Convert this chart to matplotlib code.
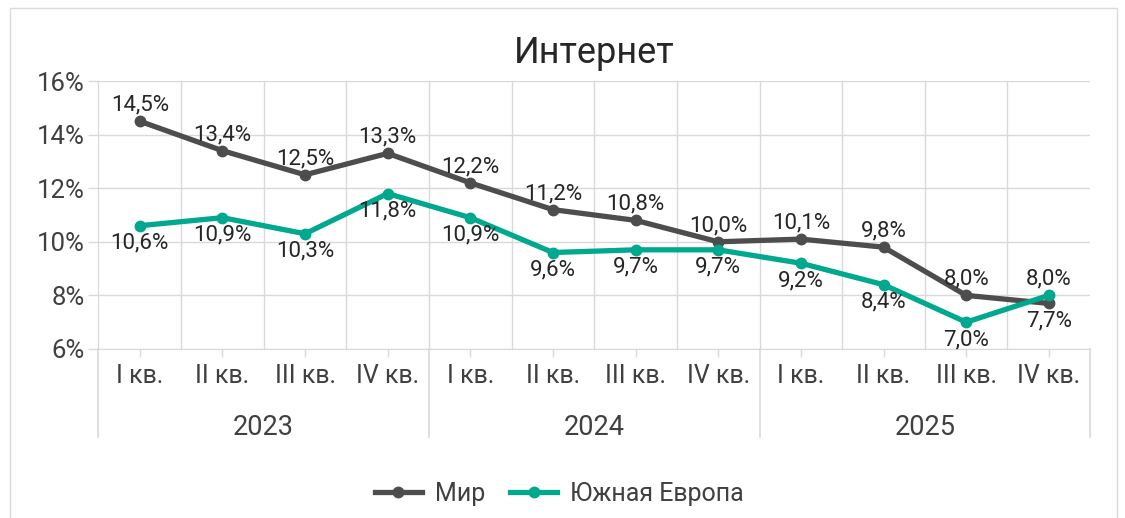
import matplotlib
matplotlib.use('Agg')
import matplotlib.pyplot as plt
import matplotlib.transforms as mtransforms
from matplotlib.patches import Rectangle
import numpy as np

plt.rcParams['font.family'] = ['Roboto', 'DejaVu Sans']

quarters = ['I кв.', 'II кв.', 'III кв.', 'IV кв.'] * 3
years = ['2023', '2024', '2025']
mir = [14.5, 13.4, 12.5, 13.3, 12.2, 11.2, 10.8, 10.0, 10.1, 9.8, 8.0, 7.7]
south_eu = [10.6, 10.9, 10.3, 11.8, 10.9, 9.6, 9.7, 9.7, 9.2, 8.4, 7.0, 8.0]
# label placement: +1 above, -1 below
mir_pos = [1] * 11 + [-1]
se_pos = [-1] * 11 + [1]

c_mir = '#4d4d4d'
c_se = '#00a88e'
c_grid = '#d9d9d9'
c_text = '#404040'

fig = plt.figure(figsize=(11.25, 5.18), dpi=100)
ax = fig.add_axes([0.0875, 0.3263, 0.8815, 0.5173])

x = np.arange(len(mir))
ax.plot(x, mir, color=c_mir, lw=3.8, marker='o', ms=7.5, label='Мир', zorder=3)
ax.plot(x, south_eu, color=c_se, lw=3.8, marker='o', ms=7.5, label='Южная Европа', zorder=4)

def fmt(v):
    return f'{v:.1f}%'.replace('.', ',')

for series, pos in [(mir, mir_pos), (south_eu, se_pos)]:
    for xi, v, p in zip(x, series, pos):
        ax.annotate(fmt(v), (xi, v), xytext=(0, 4 if p > 0 else -5),
                    textcoords='offset points', ha='center',
                    va='bottom' if p > 0 else 'top', fontsize=16, color='#262626', zorder=5)

ax.set_xlim(-0.5, len(mir) - 0.5)
ax.set_ylim(6, 16)
ax.set_yticks(np.arange(6, 17, 2))
ax.set_yticklabels([f'{t}%' for t in range(6, 17, 2)])
ax.set_xticks(x)
ax.set_xticklabels(quarters)
ax.set_xticks(np.arange(0.5, len(mir) - 1, 1), minor=True)

ax.grid(axis='y', color=c_grid, lw=1)
ax.grid(axis='x', which='minor', color=c_grid, lw=1)
ax.set_axisbelow(True)

for s in ['top', 'right']:
    ax.spines[s].set_visible(False)
ax.spines['left'].set_color(c_grid)
ax.spines['bottom'].set_color(c_grid)
ax.tick_params(axis='y', colors=c_grid, labelcolor=c_text, labelsize=18.5, length=7, width=1, pad=3)
ax.tick_params(axis='x', which='major', colors=c_grid, labelcolor=c_text, labelsize=18, length=6, width=1, pad=5)
ax.tick_params(axis='x', which='minor', length=0)

# multi-level category axis: year labels and separators
trans = mtransforms.blended_transform_factory(ax.transData, ax.transAxes)
for i, yr in enumerate(years):
    ax.text(i * 4 + 1.5, -0.292, yr, transform=trans, ha='center', va='center',
            fontsize=19.5, color=c_text)
for b in [-0.5, 3.5, 7.5, 11.5]:
    ax.plot([b, b], [0, -0.33], transform=trans, color=c_grid, lw=1.2, clip_on=False)

ax.set_title('Интернет', fontsize=26, color='#262626', pad=13)

leg = fig.legend(loc='center', bbox_to_anchor=(0.497, 0.047), ncol=2, frameon=False,
                 fontsize=18, handlelength=1.9, columnspacing=1.0, handletextpad=0.5)
for t in leg.get_texts():
    t.set_color(c_text)

fig.patches.append(Rectangle((0.009, -0.01), 0.984, 0.995, transform=fig.transFigure,
                             fill=False, edgecolor=c_grid, lw=1))

fig.savefig('out.png', dpi=100, facecolor='white')
